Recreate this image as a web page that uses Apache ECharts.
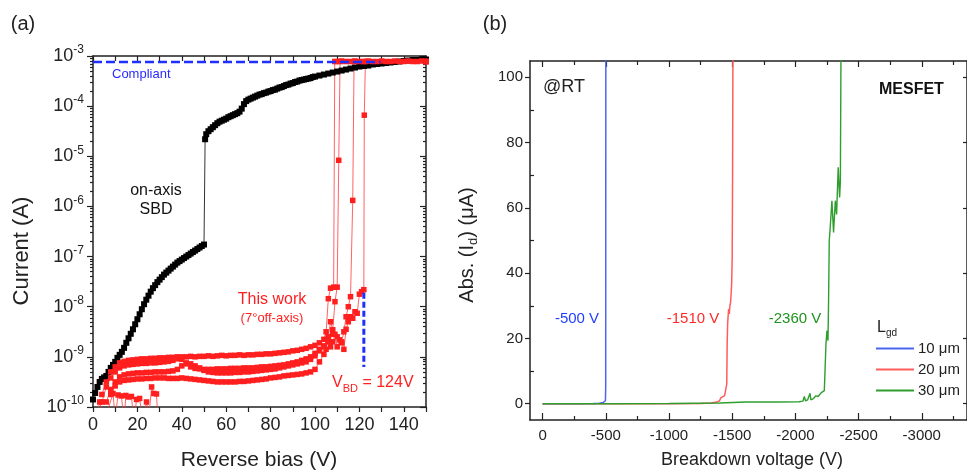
<!DOCTYPE html>
<html><head><meta charset="utf-8">
<script src="https://cdn.jsdelivr.net/npm/echarts@6/dist/echarts.min.js"></script>
<style>html,body{margin:0;padding:0;background:#fff}#c{width:967px;height:474px}</style>
</head><body><div id="c"></div>
<script>
// ---------- Panel (a): log10 of current (A) vs reverse bias (V) ----------
const xTickLabelsA = [0, 20, 40, 60, 80, 100, 120, 140];
const yDecadesA = [-10, -9, -8, -7, -6, -5, -4, -3];

// on-axis SBD (black)
const sbdData = [
 [0,-9.85],[1,-9.72],[2,-9.6],[3,-9.5],[4,-9.44],[5,-9.41],[6,-9.38],[7,-9.3],[8,-9.22],[9,-9.16],
 [10,-9.1],[11,-9.02],[12,-8.96],[13,-8.9],[14,-8.82],[15,-8.72],[16,-8.63],[17,-8.54],[18,-8.45],[19,-8.35],
 [20,-8.25],[21,-8.15],[22,-8.05],[23,-7.95],[24,-7.86],[25,-7.78],[26,-7.7],[27,-7.63],[28,-7.57],[29,-7.51],
 [30,-7.46],[31,-7.41],[32,-7.36],[33,-7.32],[34,-7.28],[35,-7.24],[36,-7.2],[37,-7.16],[38,-7.12],[39,-7.09],
 [40,-7.06],[41,-7.03],[42,-7.0],[43,-6.97],[44,-6.94],[45,-6.91],[46,-6.88],[47,-6.85],[48,-6.82],[49,-6.79],
 [50,-6.76],[50.5,-4.66],[51,-4.56],[52,-4.5],[53,-4.46],[54,-4.42],[55,-4.38],[56,-4.34],[57,-4.31],[58,-4.29],
 [59,-4.27],[60,-4.25],[61,-4.22],[62,-4.2],[63,-4.18],[64,-4.16],[65,-4.14],[66,-4.11],[67,-4.05],[68,-3.96],
 [69,-3.9],[70,-3.87],[71,-3.85],[72,-3.83],[73,-3.81],[74,-3.79],[75,-3.77],[76,-3.76],[77,-3.74],[78,-3.73],
 [79,-3.71],[80,-3.7],[81,-3.68],[82,-3.67],[83,-3.65],[84,-3.63],[85,-3.62],[86,-3.6],[87,-3.58],[88,-3.57],
 [89,-3.55],[90,-3.54],[91,-3.52],[92,-3.51],[93,-3.49],[94,-3.48],[95,-3.47],[96,-3.46],[97,-3.45],[98,-3.44],
 [99,-3.42],[100,-3.41],[102,-3.39],[104,-3.37],[106,-3.35],[108,-3.33],[110,-3.31],[112,-3.29],[114,-3.27],[116,-3.25],
 [118,-3.23],[120,-3.21],[122,-3.2],[124,-3.19],[126,-3.17],[128,-3.16],[130,-3.15],[132,-3.14],[134,-3.13],[136,-3.12],
 [138,-3.11],[140,-3.1],[142,-3.09],[144,-3.08],[146,-3.08],[148,-3.07],[150,-3.07]
];

// "This work" sweeps (red)
const sweep1 = [
 [4,-9.75],[6,-9.5],[8,-9.3],[10,-9.2],[12,-9.12],[14,-9.09],[16,-9.07],[18,-9.06],[20,-9.05],[22,-9.04],
 [24,-9.04],[26,-9.03],[28,-9.03],[30,-9.02],[32,-9.02],[34,-9.01],[36,-9.01],[38,-9.0],[40,-9.0],[42,-9.0],
 [44,-8.99],[46,-9.0],[48,-8.99],[50,-8.99],[52,-8.98],[54,-8.99],[56,-8.98],[58,-8.97],[60,-8.98],[62,-8.97],
 [64,-8.97],[66,-8.96],[68,-8.97],[70,-8.96],[72,-8.96],[74,-8.95],[76,-8.95],[78,-8.94],[80,-8.94],[82,-8.93],
 [84,-8.92],[86,-8.91],[88,-8.9],[90,-8.88],[92,-8.87],[94,-8.85],[96,-8.83],[98,-8.8],[100,-8.77],[102,-8.72],
 [104,-8.65],[105,-8.5],[106,-7.84],[107,-7.63],[108.4,-7.61],[108.9,-3.11],
 [110,-3.11],[112,-3.1],[114,-3.11],[116,-3.11],[118,-3.1],[120,-3.11],[122,-3.11],[124,-3.1],[126,-3.11],[128,-3.11],
 [130,-3.1],[132,-3.11],[134,-3.11],[136,-3.1],[138,-3.11],[140,-3.11],[142,-3.1],[144,-3.11],[146,-3.11],[148,-3.1],[150,-3.11]
];
const sweep2 = [
 [4,-9.9],[6,-9.6],[8,-9.42],[10,-9.3],[12,-9.22],[14,-9.18],[16,-9.16],[18,-9.15],[20,-9.14],[22,-9.13],
 [24,-9.13],[26,-9.12],[28,-9.12],[30,-9.11],[32,-9.1],[34,-9.09],[36,-9.07],[38,-9.04],[40,-9.05],[42,-9.14],
 [44,-9.2],[46,-9.23],[48,-9.24],[50,-9.25],[52,-9.25],[54,-9.25],[56,-9.24],[58,-9.24],[60,-9.24],[62,-9.23],
 [64,-9.23],[66,-9.23],[68,-9.22],[70,-9.22],[72,-9.22],[74,-9.21],[76,-9.2],[78,-9.2],[80,-9.19],[82,-9.18],
 [84,-9.17],[86,-9.16],[88,-9.14],[90,-9.12],[92,-9.1],[94,-9.07],[96,-9.04],[98,-9.0],[100,-8.93],[102,-8.85],
 [104,-8.78],[106,-8.6],[107,-8.3],[108,-8.46],[109,-7.9],[110,-7.61],[110.7,-5.08],[111.3,-3.11],[150,-3.11]
];
const sweep3 = [
 [6,-9.9],[8,-9.65],[10,-9.5],[12,-9.4],[14,-9.36],[16,-9.34],[18,-9.33],[20,-9.32],[22,-9.32],[24,-9.31],
 [26,-9.31],[28,-9.3],[30,-9.3],[32,-9.3],[34,-9.29],[36,-9.28],[38,-9.25],[40,-9.18],[42,-9.12],[44,-9.14],
 [46,-9.18],[48,-9.22],[50,-9.27],[52,-9.3],[54,-9.31],[56,-9.32],[58,-9.32],[60,-9.32],[62,-9.32],[64,-9.31],
 [66,-9.31],[68,-9.3],[70,-9.3],[72,-9.29],[74,-9.28],[76,-9.27],[78,-9.26],[80,-9.25],[82,-9.24],[84,-9.22],
 [86,-9.2],[88,-9.18],[90,-9.16],[92,-9.14],[94,-9.12],[96,-9.1],[98,-9.05],[100,-8.98],[102,-8.88],[104,-8.8],
 [106,-8.7],[108,-8.55],[110,-8.6],[112,-8.7],[113,-8.5],[114,-8.2],[115,-8.0],[116,-7.8],[117,-5.88],[117.6,-3.11],[150,-3.11]
];
const sweep4 = [
 [8,-9.75],[10,-9.58],[12,-9.5],[14,-9.47],[16,-9.46],[18,-9.45],[20,-9.44],[22,-9.44],[24,-9.43],[26,-9.43],
 [28,-9.42],[30,-9.42],[32,-9.42],[34,-9.43],[36,-9.43],[38,-9.43],[40,-9.42],[42,-9.43],[44,-9.44],[46,-9.45],
 [48,-9.46],[50,-9.47],[52,-9.48],[54,-9.49],[56,-9.5],[58,-9.5],[60,-9.5],[62,-9.5],[64,-9.5],[66,-9.49],
 [68,-9.49],[70,-9.48],[72,-9.47],[74,-9.46],[76,-9.45],[78,-9.44],[80,-9.42],[82,-9.41],[84,-9.4],[86,-9.38],
 [88,-9.37],[90,-9.36],[92,-9.35],[94,-9.34],[96,-9.32],[98,-9.3],[100,-9.25],[102,-9.1],[104,-8.95],[105,-8.85],
 [106,-8.6],[107,-8.8],[108,-8.7],[109,-8.55],[110,-8.8],[111,-8.66],[112,-8.72],[113,-8.85],[114,-8.45],[115,-8.3],
 [116,-8.2],[117,-8.23],[118,-8.1],[119,-8.13],[120,-7.75],[121,-7.7],[122,-7.66],[122.2,-4.18],[122.7,-3.11],[150,-3.11]
];
const sweepNoise = [
 [0,-10.3],[2,-10.1],[3,-9.9],[5,-10.3],[9,-9.73],[10,-10.2],[11.3,-9.76],[12.8,-9.78],[14,-10.3],[14.8,-9.77],
 [16,-9.8],[17.3,-9.79],[18.5,-10.3],[19.6,-9.85],[21,-9.83],[22.5,-10.3],[24.1,-9.9],[25.3,-10.15],[26.4,-9.6],
 [27.4,-9.73],[28.6,-9.74],[29.3,-10.3]
];

// blue dashed guide lines
const compliantLine = [[0,-3.12],[129.5,-3.12]];
const vbdLine = [[122,-7.72],[122,-9.2]];

// ---------- Panel (b): Abs(Id) (uA) vs breakdown voltage (V) ----------
const xTickLabelsB = [0, -500, -1000, -1500, -2000, -2500, -3000];
const xMinorTicksB = [-250, -750, -1250, -1750, -2250, -2750, -3250];
const yTickLabelsB = [0, 20, 40, 60, 80, 100];
const yMinorTicksB = [10, 30, 50, 70, 90];

const lgd10 = [[0,0],[-100,0],[-200,0],[-300,0],[-400,0.05],[-450,0.15],[-480,0.4],[-490,0.6],[-497,0.9],[-499,5],[-500,110]];
const lgd20 = [[0,0],[-500,0],[-1000,0],[-1250,0.05],[-1330,0.2],[-1380,0.5],[-1400,0.9],[-1410,1.8],[-1425,2.3],[-1440,2.5],
 [-1450,3.0],[-1454,2.6],[-1457,6],[-1460,18],[-1464,24.5],[-1468,27],[-1472,29],[-1477,27.5],[-1482,30],[-1487,31],
 [-1492,34],[-1496,37],[-1500,45],[-1503,70],[-1506,110]];
const lgd30 = [[0,0],[-500,0],[-1000,0.05],[-1400,0.2],[-1610,0.5],[-1870,0.5],[-2030,0.6],[-2060,0.8],[-2071,2.2],[-2080,0.9],
 [-2097,1.2],[-2116,3.2],[-2122,1.2],[-2140,1.5],[-2163,2.4],[-2180,2.2],[-2203,3.3],[-2229,4.0],[-2242,18.3],[-2250,22.4],
 [-2258,19.3],[-2263,32.6],[-2268,50],[-2274,53],[-2289,62.2],[-2302,52.5],[-2316,62.2],[-2326,58],[-2339,72.4],[-2350,63.2],
 [-2356,68],[-2361,110]];

// ---------- styling ----------
const FONT = '"Liberation Sans", Arial, sans-serif';
const AX = '#222';
const RED = '#ff1f1f';
const minorLogTicks = [];
for (let n = -10; n < -3; n++) for (let k = 2; k <= 9; k++) minorLogTicks.push(n + Math.log10(k));

function line(show) { return {show: show, onZero: false, lineStyle: {color: AX, width: 1.5}}; }
function tick(inside, length, values) {
  const t = {show: true, inside: inside, length: length, lineStyle: {color: AX, width: 1.2}};
  if (values) t.customValues = values;
  return t;
}
const noLabel = {show: false};
const noSplit = {show: false};

const chart = echarts.init(document.getElementById('c'), null, {renderer: 'canvas'});

function redSweep(data) {
  return {type: 'line', xAxisIndex: 0, yAxisIndex: 0, data: data, symbol: 'rect', symbolSize: 5.5,
    itemStyle: {color: RED}, lineStyle: {color: '#ff3b3b', width: 0.8}, animation: false};
}

const option = {
  animation: false,
  backgroundColor: '#fff',
  textStyle: {fontFamily: FONT},
  grid: [
    {left: 93, top: 56, width: 333, height: 351},
    {left: 530, top: 61, width: 438, height: 359}
  ],
  xAxis: [
    {gridIndex: 0, type: 'value', position: 'bottom', min: 0, max: 150, interval: 10,
      axisLine: line(true), axisTick: tick(false, 5), splitLine: noSplit,
      axisLabel: {fontSize: 18, color: AX, fontFamily: FONT, margin: 9,
        formatter: v => xTickLabelsA.indexOf(v) >= 0 ? String(v) : ''}},
    {gridIndex: 0, type: 'value', position: 'top', min: 0, max: 150, interval: 10,
      axisLine: line(true), axisTick: tick(true, 5), axisLabel: noLabel, splitLine: noSplit},
    {gridIndex: 1, type: 'value', position: 'bottom', inverse: true, min: -3358, max: 100,
      axisLine: line(true), axisTick: tick(true, 7, xTickLabelsB), splitLine: noSplit,
      axisLabel: {customValues: xTickLabelsB, fontSize: 15, color: AX, fontFamily: FONT, margin: 8,
        formatter: v => String(v)}},
    {gridIndex: 1, type: 'value', position: 'bottom', inverse: true, min: -3358, max: 100,
      axisLine: line(false), axisTick: tick(true, 4, xMinorTicksB), axisLabel: noLabel, splitLine: noSplit},
    {gridIndex: 1, type: 'value', position: 'top', inverse: true, min: -3358, max: 100,
      axisLine: line(true), axisTick: tick(true, 6, xTickLabelsB), axisLabel: noLabel, splitLine: noSplit},
    {gridIndex: 1, type: 'value', position: 'top', inverse: true, min: -3358, max: 100,
      axisLine: line(false), axisTick: tick(true, 4, xMinorTicksB), axisLabel: noLabel, splitLine: noSplit}
  ],
  yAxis: [
    {gridIndex: 0, type: 'value', position: 'left', min: -10, max: -3, interval: 1,
      axisLine: line(true), axisTick: tick(false, 6, yDecadesA), splitLine: noSplit,
      axisLabel: {customValues: yDecadesA, margin: 9, color: AX, fontFamily: FONT,
        formatter: v => '{b|10}{s|' + v + '}',
        rich: {b: {fontSize: 18, lineHeight: 24, color: AX, fontFamily: FONT},
               s: {fontSize: 12, lineHeight: 12, verticalAlign: 'top', color: AX, fontFamily: FONT}}}},
    {gridIndex: 0, type: 'value', position: 'left', min: -10, max: -3,
      axisLine: line(false), axisTick: tick(false, 3, minorLogTicks), axisLabel: noLabel, splitLine: noSplit},
    {gridIndex: 0, type: 'value', position: 'right', min: -10, max: -3, interval: 1,
      axisLine: line(true), axisTick: tick(true, 6, yDecadesA), axisLabel: noLabel, splitLine: noSplit},
    {gridIndex: 0, type: 'value', position: 'right', min: -10, max: -3,
      axisLine: line(false), axisTick: tick(true, 3, minorLogTicks), axisLabel: noLabel, splitLine: noSplit},
    {gridIndex: 1, type: 'value', position: 'left', min: -5, max: 105,
      axisLine: line(true), axisTick: tick(false, 5, yTickLabelsB), splitLine: noSplit,
      axisLabel: {customValues: yTickLabelsB, fontSize: 15, color: AX, fontFamily: FONT, margin: 7}},
    {gridIndex: 1, type: 'value', position: 'left', min: -5, max: 105,
      axisLine: line(false), axisTick: tick(true, 4, yMinorTicksB), axisLabel: noLabel, splitLine: noSplit},
    {gridIndex: 1, type: 'value', position: 'right', min: -5, max: 105,
      axisLine: line(true), axisTick: tick(true, 4, yTickLabelsB), axisLabel: noLabel, splitLine: noSplit}
  ],
  legend: {
    data: ['10 μm', '20 μm', '30 μm'], orient: 'vertical', left: 876, top: 341, padding: 0,
    icon: 'rect', itemWidth: 38, itemHeight: 2, itemGap: 6, selectedMode: false,
    textStyle: {fontSize: 15, color: AX, fontFamily: FONT, padding: [0, 0, 0, -1]}
  },
  series: [
    {type: 'line', name: 'on-axis SBD', xAxisIndex: 0, yAxisIndex: 0, data: sbdData, symbol: 'rect', symbolSize: 6,
      itemStyle: {color: '#000'}, lineStyle: {color: '#000', width: 0.8}},
    redSweep(sweepNoise), redSweep(sweep4), redSweep(sweep3), redSweep(sweep2), redSweep(sweep1),
    {type: 'line', xAxisIndex: 0, yAxisIndex: 0, data: compliantLine, symbol: 'none',
      lineStyle: {color: '#1f2fff', width: 2.5, type: [9, 4]}, z: 5},
    {type: 'line', xAxisIndex: 0, yAxisIndex: 0, data: vbdLine, symbol: 'none',
      lineStyle: {color: '#1f2fff', width: 3, type: [6, 3]}, z: 5},
    {type: 'line', name: '10 μm', xAxisIndex: 2, yAxisIndex: 4, data: lgd10, showSymbol: false, symbol: 'none',
      itemStyle: {color: '#4a66f0'}, lineStyle: {color: '#4a66f0', width: 1.5}},
    {type: 'line', name: '20 μm', xAxisIndex: 2, yAxisIndex: 4, data: lgd20, showSymbol: false, symbol: 'none',
      itemStyle: {color: '#ff5c5c'}, lineStyle: {color: '#ff5c5c', width: 1.5}},
    {type: 'line', name: '30 μm', xAxisIndex: 2, yAxisIndex: 4, data: lgd30, showSymbol: false, symbol: 'none',
      itemStyle: {color: '#2e9e2e'}, lineStyle: {color: '#2e9e2e', width: 1.4}}
  ],
  graphic: [
    {type: 'text', x: 23, y: 24, style: {text: '(a)', font: '20px ' + FONT, fill: AX, align: 'center', verticalAlign: 'middle', textAlign: 'center', textVerticalAlign: 'middle'}},
    {type: 'text', x: 495, y: 24, style: {text: '(b)', font: '20px ' + FONT, fill: AX, align: 'center', verticalAlign: 'middle', textAlign: 'center', textVerticalAlign: 'middle'}},
    {type: 'text', x: 112, y: 74, style: {text: 'Compliant', font: '13px ' + FONT, fill: '#2a2aff', align: 'left', verticalAlign: 'middle', textAlign: 'left', textVerticalAlign: 'middle'}},
    {type: 'text', x: 156, y: 191, style: {text: 'on-axis', font: '16px ' + FONT, fill: '#111', align: 'center', verticalAlign: 'middle', textAlign: 'center', textVerticalAlign: 'middle'}},
    {type: 'text', x: 156, y: 210, style: {text: 'SBD', font: '16px ' + FONT, fill: '#111', align: 'center', verticalAlign: 'middle', textAlign: 'center', textVerticalAlign: 'middle'}},
    {type: 'text', x: 272, y: 300, style: {text: 'This work', font: '16px ' + FONT, fill: RED, align: 'center', verticalAlign: 'middle', textAlign: 'center', textVerticalAlign: 'middle'}},
    {type: 'text', x: 272, y: 318, style: {text: '(7°off-axis)', font: '13px ' + FONT, fill: RED, align: 'center', verticalAlign: 'middle', textAlign: 'center', textVerticalAlign: 'middle'}},
    {type: 'text', x: 332, y: 383, style: {text: '{b|V}{s|BD}{b| = 124V}', align: 'left', verticalAlign: 'middle', textAlign: 'left', textVerticalAlign: 'middle',
      rich: {b: {fontSize: 16, lineHeight: 22, fontFamily: FONT, fill: RED}, s: {fontSize: 11, lineHeight: 11, verticalAlign: 'bottom', fontFamily: FONT, fill: RED}}}},
    {type: 'text', x: 22, y: 251, rotation: Math.PI / 2, style: {text: 'Current (A)', font: '22px ' + FONT, fill: AX, align: 'center', verticalAlign: 'middle', textAlign: 'center', textVerticalAlign: 'middle'}},
    {type: 'text', x: 259, y: 460, style: {text: 'Reverse bias (V)', font: '21px ' + FONT, fill: AX, align: 'center', verticalAlign: 'middle', textAlign: 'center', textVerticalAlign: 'middle'}},
    {type: 'text', x: 467, y: 245, rotation: Math.PI / 2, style: {text: '{b|Abs. (I}{s|d}{b|) (μA)}', align: 'center', verticalAlign: 'middle', textAlign: 'center', textVerticalAlign: 'middle',
      rich: {b: {fontSize: 20, lineHeight: 26, fontFamily: FONT, fill: AX}, s: {fontSize: 13, lineHeight: 13, verticalAlign: 'bottom', fontFamily: FONT, fill: AX}}}},
    {type: 'text', x: 752, y: 460, style: {text: 'Breakdown voltage (V)', font: '18px ' + FONT, fill: AX, align: 'center', verticalAlign: 'middle', textAlign: 'center', textVerticalAlign: 'middle'}},
    {type: 'text', x: 543, y: 87, style: {text: '@RT', font: '18px ' + FONT, fill: AX, align: 'left', verticalAlign: 'middle', textAlign: 'left', textVerticalAlign: 'middle'}},
    {type: 'text', x: 879, y: 90, style: {text: 'MESFET', font: 'bold 16px ' + FONT, fill: '#111', align: 'left', verticalAlign: 'middle', textAlign: 'left', textVerticalAlign: 'middle'}},
    {type: 'text', x: 577, y: 319, style: {text: '-500 V', font: '15px ' + FONT, fill: '#2340ff', align: 'center', verticalAlign: 'middle', textAlign: 'center', textVerticalAlign: 'middle'}},
    {type: 'text', x: 693, y: 319, style: {text: '-1510 V', font: '15px ' + FONT, fill: '#ff2a2a', align: 'center', verticalAlign: 'middle', textAlign: 'center', textVerticalAlign: 'middle'}},
    {type: 'text', x: 795, y: 319, style: {text: '-2360 V', font: '15px ' + FONT, fill: '#1f931f', align: 'center', verticalAlign: 'middle', textAlign: 'center', textVerticalAlign: 'middle'}},
    {type: 'text', x: 877, y: 328, style: {text: '{b|L}{s|gd}', align: 'left', verticalAlign: 'middle', textAlign: 'left', textVerticalAlign: 'middle',
      rich: {b: {fontSize: 16, lineHeight: 20, fontFamily: FONT, fill: AX}, s: {fontSize: 10, lineHeight: 10, verticalAlign: 'bottom', fontFamily: FONT, fill: AX}}}}
  ]
};
chart.setOption(option);
</script></body></html>
